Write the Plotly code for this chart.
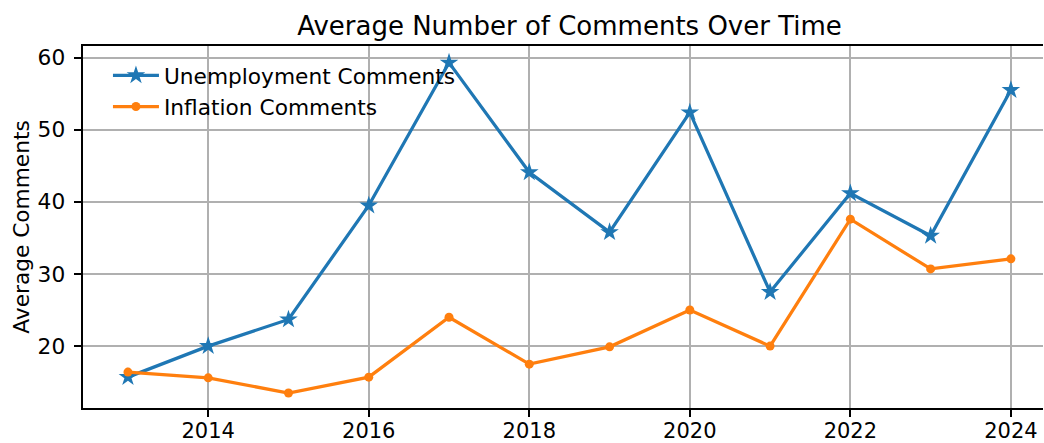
import plotly.graph_objects as go

years = [2013, 2014, 2015, 2016, 2017, 2018, 2019, 2020, 2021, 2022, 2023, 2024]
unemployment = [15.7, 20.0, 23.7, 39.5, 59.3, 44.1, 35.8, 52.4, 27.5, 41.2, 35.3, 55.5]
inflation = [16.4, 15.6, 13.5, 15.7, 24.0, 17.5, 19.9, 25.0, 20.0, 37.6, 30.7, 32.1]
xticks = [2014, 2016, 2018, 2020, 2022, 2024]
yticks = [20, 30, 40, 50, 60]

FONT = "DejaVu Sans"
BLUE = "#1f77b4"
ORANGE = "#ff7f0e"

fig = go.Figure()
fig.add_trace(go.Scatter(
    x=years, y=unemployment, mode="lines+markers", name="Unemployment Comments",
    line=dict(color=BLUE, width=3.25),
    marker=dict(symbol="star", size=14, color=BLUE),
))
fig.add_trace(go.Scatter(
    x=years, y=inflation, mode="lines+markers", name="Inflation Comments",
    line=dict(color=ORANGE, width=3.25),
    marker=dict(symbol="circle", size=9, color=ORANGE),
))

fig.update_layout(
    width=1044, height=443,
    margin=dict(l=83, r=1, t=46, b=35, pad=0, autoexpand=False),
    paper_bgcolor="white", plot_bgcolor="white",
    font=dict(family=FONT, size=21.7, color="black"),
    title=dict(text="Average Number of Comments Over Time", font=dict(size=26, family=FONT),
               xref="container", x=569.5 / 1044, xanchor="center",
               yref="container", y=1 - 26 / 443, yanchor="middle"),
    showlegend=True,
    legend=dict(x=0.026, y=0.976, xanchor="left", yanchor="top",
                bgcolor="rgba(0,0,0,0)", borderwidth=0,
                font=dict(size=21.7, family=FONT), itemwidth=46,
                traceorder="normal"),
)
fig.update_xaxes(
    range=[2012.44, 2024.40], tickvals=xticks, ticktext=[str(t) for t in xticks],
    showgrid=True, gridcolor="#b0b0b0", gridwidth=1.7,
    showline=True, linecolor="black", linewidth=1.7, mirror=True,
    ticks="outside", ticklen=7.6, tickwidth=1.7, tickcolor="black",
    zeroline=False, ticklabelstandoff=-5, automargin=False,
    tickfont=dict(size=21, family=FONT),
)
fig.update_yaxes(
    range=[11.42, 61.61], tickvals=yticks,
    showgrid=True, gridcolor="#b0b0b0", gridwidth=1.7,
    showline=True, linecolor="black", linewidth=1.7, mirror=False,
    ticks="outside", ticklen=7.6, tickwidth=1.7, tickcolor="black",
    zeroline=False, ticklabelstandoff=4, automargin=False,
    title=dict(text="Average Comments", standoff=2, font=dict(size=21.7, family=FONT)),
)

fig.write_html("out.html")
